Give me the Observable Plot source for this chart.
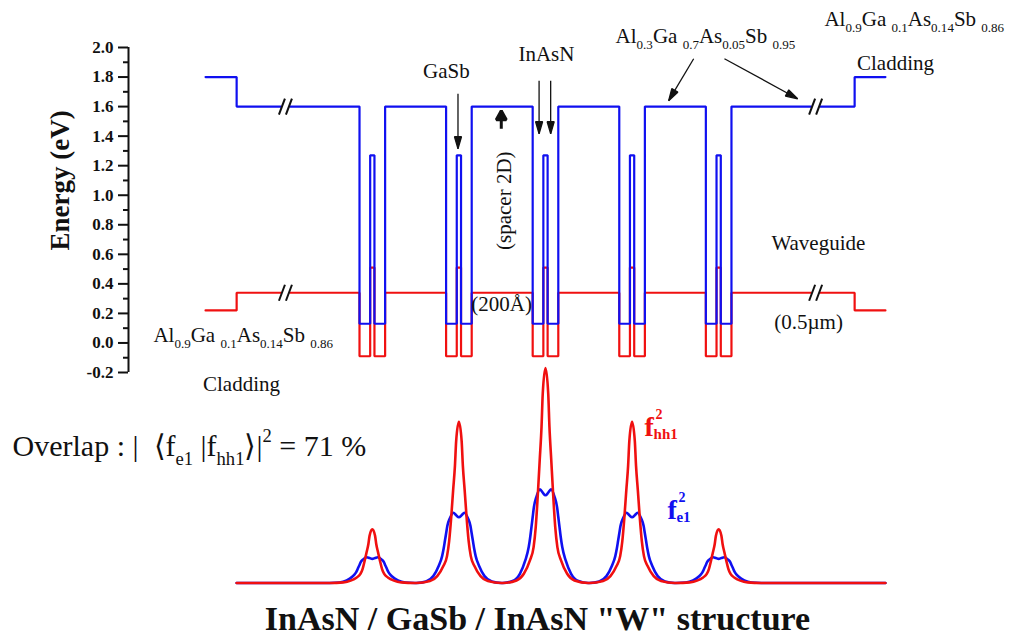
<!DOCTYPE html>
<html><head><meta charset="utf-8">
<script src="https://cdn.jsdelivr.net/npm/d3@7"></script>
<script src="https://cdn.jsdelivr.net/npm/@observablehq/plot@0.6"></script>
<style>
body{margin:0;background:#fff;}
#wrap{position:relative;width:1011px;height:638px;overflow:hidden;font-family:"Liberation Serif","Times New Roman",serif;}
#wrap svg{position:absolute;left:0;top:0;background:transparent;}
#title{position:absolute;left:0;width:1075px;top:602px;text-align:center;font-weight:bold;font-size:34px;line-height:34px;color:#111;white-space:pre;}
</style></head><body><div id="wrap"><div id="title">InAsN / GaSb / InAsN "W" structure</div></div>
<script>
// ---------- DATA ----------
// layer sequence (widths in Å), conduction (Ec) and valence (Ev) band edges in eV
const layerName  = ["Cladding","Waveguide","InAsN","GaSb","InAsN","Spacer","InAsN","GaSb","InAsN","Spacer","InAsN","GaSb","InAsN","Spacer","InAsN","GaSb","InAsN","Spacer","InAsN","GaSb","InAsN","Waveguide","Cladding"];
const layerWidth = [102, 403, 35,14,35,200, 35,14,35,200, 35,14,35,200, 35,14,35,200, 35,14,35, 404, 101];
const layerEc    = [1.80,1.60, 0.13,1.27,0.13,1.60, 0.13,1.27,0.13,1.60, 0.13,1.27,0.13,1.60, 0.13,1.27,0.13,1.60, 0.13,1.27,0.13, 1.60,1.80];
const layerEv    = [0.22,0.34, -0.09,0.51,-0.09,0.34, -0.09,0.51,-0.09,0.34, -0.09,0.51,-0.09,0.34, -0.09,0.51,-0.09,0.34, -0.09,0.51,-0.09, 0.34,0.22];
const profileStart = -505;

const majorTicks = [-0.2,0.0,0.2,0.4,0.6,0.8,1.0,1.2,1.4,1.6,1.8,2.0];
const minorTicks = [-0.1,0.1,0.3,0.5,0.7,0.9,1.1,1.3,1.5,1.7,1.9];

// axis breaks "//" (x in Å) on the waveguide levels
const breakX = [-243, 1496];
const breakE = [1.60, 0.34];

// squared wavefunctions: peak centres (Å), one-sided profiles (offset Å -> value)
const peakCenters = [42, 326, 610, 894, 1178];
const waveStart = -403, waveEnd = 1725;
const hhOffsets = [0, 9, 13, 19, 25, 32, 39, 51, 71, 95, 140];
const hhPeak1 = [0.25, 0.22, 0.18, 0.142, 0.104, 0.065, 0.042, 0.026, 0.011, 0.003, 0];
const hhPeak2 = [0.75, 0.66, 0.545, 0.43, 0.31, 0.195, 0.125, 0.079, 0.032, 0.009, 0];
const hhPeak3 = [1.00, 0.88, 0.726, 0.57, 0.415, 0.26, 0.167, 0.105, 0.043, 0.012, 0];
const hhPeak4 = [0.75, 0.66, 0.545, 0.43, 0.31, 0.195, 0.125, 0.079, 0.032, 0.009, 0];
const hhPeak5 = [0.25, 0.22, 0.18, 0.142, 0.104, 0.065, 0.042, 0.026, 0.011, 0.003, 0];
const e1Offsets = [0, 9, 18, 30, 38, 42, 46, 50, 55, 66, 84, 108, 140];
const e1Peak1 = [0.112, 0.116, 0.12, 0.11, 0.097, 0.084, 0.072, 0.059, 0.046, 0.029, 0.012, 0.002, 0];
const e1Peak2 = [0.306, 0.315, 0.327, 0.30, 0.265, 0.23, 0.195, 0.16, 0.125, 0.08, 0.032, 0.007, 0];
const e1Peak3 = [0.408, 0.42, 0.436, 0.40, 0.353, 0.307, 0.26, 0.214, 0.167, 0.106, 0.043, 0.009, 0];
const e1Peak4 = [0.306, 0.315, 0.327, 0.30, 0.265, 0.23, 0.195, 0.16, 0.125, 0.08, 0.032, 0.007, 0];
const e1Peak5 = [0.112, 0.116, 0.12, 0.11, 0.097, 0.084, 0.072, 0.059, 0.046, 0.029, 0.012, 0.002, 0];

// annotations (x in Å, e in eV)
const centeredLabels = [
  {text: "GaSb", x: 285, e: 1.796},
  {text: "InAsN", x: 613, e: 1.91},
  {text: "Cladding", x: 1758, e: 1.85},
  {text: "Waveguide", x: 1505, e: 0.631},
  {text: "(0.5\u00b5m)", x: 1473, e: 0.096},
  {text: "(200\u00c5)", x: 466, e: 0.218},
  {text: "Cladding", x: -387, e: -0.324}
];
const formulaLabels = [
  {text: "Al_{0.3}Ga _{0.7}As_{0.05}Sb _{0.95}", x: 840, e: 2.033},
  {text: "Al_{0.9}Ga _{0.1}As_{0.14}Sb _{0.86}", x: 1525, e: 2.148},
  {text: "Al_{0.9}Ga _{0.1}As_{0.14}Sb _{0.86}", x: -676, e: 0.008}
];
const spacerLabel = [{text: "(spacer 2D)", x: 476, e: 0.963}];
const thinArrows = [
  {x1: 323, e1: 1.687, x2: 323, e2: 1.315},
  {x1: 589, e1: 1.775, x2: 589, e2: 1.416},
  {x1: 627, e1: 1.775, x2: 627, e2: 1.416},
  {x1: 1096, e1: 1.924, x2: 1014, e2: 1.64},
  {x1: 1197, e1: 1.924, x2: 1437, e2: 1.653}
];
const boldArrows = [{x1: 465, e1: 1.45, x2: 465, e2: 1.572}];
const overlapLabel = [{text: "Overlap : |  \u27e8f_{e1} |f_{hh1}\u27e9|^{2} = 71 %", x: -1138, v: 0.593}];
const waveLabels = [
  {base: "f", sup: "2", sub: "hh1", x: 935, v: 0.686, color: "#f01010"},
  {base: "f", sup: "2", sub: "e1", x: 1010, v: 0.30, color: "#1010f0"}
];

// ---------- BUILD ----------
const W = 1011, H = 600, FONT = "Liberation Serif, Times New Roman, serif";
const BLUE = "#1010f0", RED = "#f01010";
const mL = 128, mR = 0;
const xDomain = [-757.7, 2138.5];
const AperPx = (xDomain[1] - xDomain[0]) / (W - mL - mR);
const eTop = 47, eBot = 228;
const EperPx = 2.2 / (H - eTop - eBot);

const cb = [], vb = [];
let x0 = profileStart;
layerWidth.forEach((w, i) => {
  const x1 = x0 + w;
  cb.push({x: x0, e: layerEc[i]}, {x: x1, e: layerEc[i]});
  vb.push({x: x0, e: layerEv[i]}, {x: x1, e: layerEv[i]});
  x0 = x1;
});

const gaps = [], slashes = [];
breakX.forEach(bx => breakE.forEach(be => {
  gaps.push({x1: bx - 4 * AperPx, x2: bx + 4 * AperPx, e1: be, e2: be});
  [-3.5, 3.5].forEach(o => {
    const cx = bx + o * AperPx;
    slashes.push({x1: cx - 3 * AperPx, e1: be - 8 * EperPx, x2: cx + 3 * AperPx, e2: be + 8 * EperPx});
  });
}));

function buildWave(offsets, peaks) {
  const pts = [{x: waveStart, v: 0}];
  peaks.forEach((vals, k) => {
    const c = peakCenters[k];
    for (let i = offsets.length - 1; i > 0; i--) pts.push({x: c - offsets[i], v: vals[i]});
    for (let i = 0; i < offsets.length; i++) pts.push({x: c + offsets[i], v: vals[i]});
  });
  pts.push({x: waveEnd, v: 0});
  return pts;
}
const hhWave = buildWave(hhOffsets, [hhPeak1, hhPeak2, hhPeak3, hhPeak4, hhPeak5]);
const e1Wave = buildWave(e1Offsets, [e1Peak1, e1Peak2, e1Peak3, e1Peak4, e1Peak5]);

function solidHead(len, wid) {
  return (color, context) => {
    const doc = (context && context.document) || document;
    const ns = "http://www.w3.org/2000/svg";
    const m = doc.createElementNS(ns, "marker");
    m.setAttribute("viewBox", `${-len} ${-wid / 2} ${len} ${wid}`);
    m.setAttribute("markerWidth", len);
    m.setAttribute("markerHeight", wid);
    m.setAttribute("markerUnits", "userSpaceOnUse");
    m.setAttribute("orient", "auto");
    m.setAttribute("overflow", "visible");
    const p = doc.createElementNS(ns, "path");
    p.setAttribute("d", `M${-len},${-wid / 2}L0,0L${-len},${wid / 2}Z`);
    p.setAttribute("fill", (!color || color === "currentColor") ? "#111" : color);
    m.appendChild(p);
    return m;
  };
}

function richify(svg) {
  const ns = "http://www.w3.org/2000/svg";
  svg.querySelectorAll("text").forEach(t => {
    const s = t.textContent;
    if (!/[_^]\{/.test(s)) return;
    t.textContent = "";
    t.style.whiteSpace = "pre";
    const re = /([_^])\{([^}]*)\}|([^_^]+)/g;
    const r = 0.62;
    let m, shift = 0;
    while ((m = re.exec(s))) {
      const sp = document.createElementNS(ns, "tspan");
      if (m[3] != null) {
        sp.textContent = m[3];
        if (shift) sp.setAttribute("dy", (-shift) + "em");
        shift = 0;
      } else {
        const target = m[1] === "_" ? 0.3 : -0.45;
        sp.textContent = m[2];
        sp.setAttribute("font-size", (r * 100) + "%");
        sp.setAttribute("dy", ((target - shift) / r) + "em");
        shift = target;
      }
      t.appendChild(sp);
    }
  });
}

const energyPlot = Plot.plot({
  width: W, height: H,
  marginLeft: mL, marginRight: mR, marginTop: eTop, marginBottom: eBot,
  x: {domain: xDomain, axis: null},
  y: {domain: [-0.2, 2.0], axis: null},
  style: {fontFamily: FONT, background: "transparent", overflow: "visible", color: "#111"},
  marks: [
    Plot.line(vb, {x: "x", y: "e", stroke: RED, strokeWidth: 2.2, strokeLinejoin: "miter"}),
    Plot.line(cb, {x: "x", y: "e", stroke: BLUE, strokeWidth: 2.2, strokeLinejoin: "miter"}),
    Plot.link(gaps, {x1: "x1", x2: "x2", y1: "e1", y2: "e2", stroke: "white", strokeWidth: 6}),
    Plot.link(slashes, {x1: "x1", x2: "x2", y1: "e1", y2: "e2", stroke: "#111", strokeWidth: 2}),
    Plot.ruleX([xDomain[0]], {y1: -0.2, y2: 2.0, stroke: "#111", strokeWidth: 2}),
    Plot.axisY({ticks: majorTicks, tickSize: 10, tickPadding: 5, tickFormat: d => d.toFixed(1), fontWeight: "bold", fontSize: 17, strokeWidth: 2, label: null}),
    Plot.axisY({ticks: minorTicks, tickSize: 5, fill: "none", strokeWidth: 2, label: null}),
    Plot.text(["Energy (eV)"], {frameAnchor: "left", y: 1.1, dx: -60, rotate: -90, textAnchor: "middle", lineAnchor: "bottom", fontSize: 27, fontWeight: "bold", fill: "#111"}),
    Plot.link(thinArrows, {x1: "x1", y1: "e1", x2: "x2", y2: "e2", stroke: "#111", strokeWidth: 1.3, markerEnd: solidHead(12, 7)}),
    Plot.link(boldArrows, {x1: "x1", y1: "e1", x2: "x2", y2: "e2", stroke: "#111", strokeWidth: 3, markerEnd: solidHead(9, 10)}),
    Plot.text(centeredLabels, {x: "x", y: "e", text: "text", textAnchor: "middle", lineAnchor: "bottom", fontSize: 21, fill: "#111"}),
    Plot.text(formulaLabels, {x: "x", y: "e", text: "text", textAnchor: "start", lineAnchor: "bottom", fontSize: 21, fill: "#111"}),
    Plot.text(spacerLabel, {x: "x", y: "e", text: "text", rotate: -90, textAnchor: "middle", lineAnchor: "middle", fontSize: 21, fill: "#111"})
  ]
});

const wavePlot = Plot.plot({
  width: W, height: H,
  marginLeft: mL, marginRight: mR, marginTop: 367.5, marginBottom: 17.5,
  x: {domain: xDomain, axis: null},
  y: {domain: [0, 1], axis: null},
  style: {fontFamily: FONT, background: "transparent", overflow: "visible", color: "#111"},
  marks: [
    Plot.line(e1Wave, {x: "x", y: "v", stroke: BLUE, strokeWidth: 2.6, curve: "monotone-x"}),
    Plot.line(hhWave, {x: "x", y: "v", stroke: RED, strokeWidth: 2.6, curve: "monotone-x"}),
    Plot.text(overlapLabel, {x: "x", y: "v", text: "text", textAnchor: "start", lineAnchor: "bottom", fontSize: 30, fill: "#111"}),
    Plot.text(waveLabels, {x: "x", y: "v", text: "base", fill: "color", textAnchor: "start", lineAnchor: "bottom", fontSize: 28, fontWeight: "bold"}),
    Plot.text(waveLabels, {x: "x", y: "v", text: "sup", fill: "color", textAnchor: "start", lineAnchor: "bottom", fontSize: 14, fontWeight: "bold", dx: 11, dy: -17}),
    Plot.text(waveLabels, {x: "x", y: "v", text: "sub", fill: "color", textAnchor: "start", lineAnchor: "bottom", fontSize: 15, fontWeight: "bold", dx: 9, dy: 3})
  ]
});

richify(energyPlot);
richify(wavePlot);
const wrap = document.getElementById("wrap");
wrap.appendChild(energyPlot);
wrap.appendChild(wavePlot);
</script></body></html>
